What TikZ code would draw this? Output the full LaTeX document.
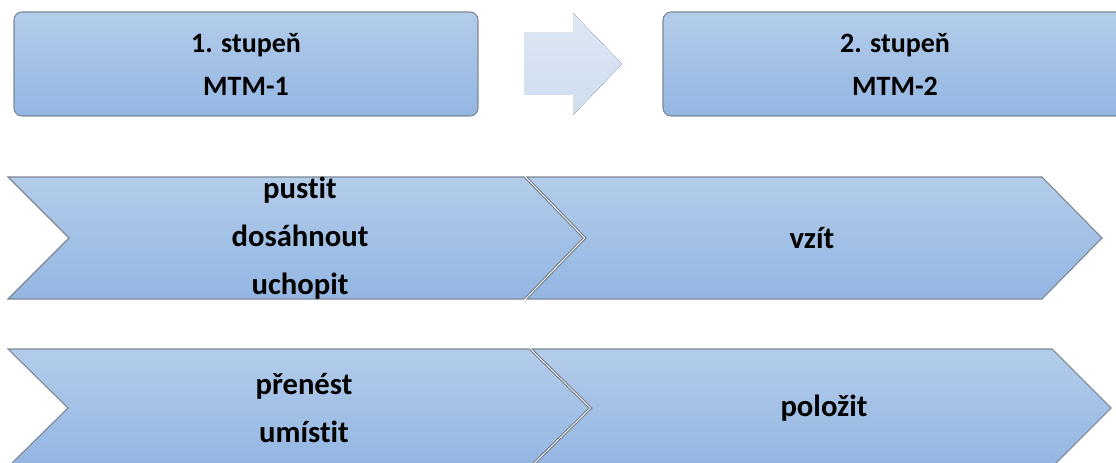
\documentclass[tikz,border=0pt]{standalone}
\usepackage{fontspec}
\setmainfont{Carlito}[Ligatures=NoCommon]
\usepackage{tikz}

\definecolor{boxtop}{HTML}{B3CCEA}
\definecolor{boxbot}{HTML}{93B6E2}
\definecolor{boxline}{HTML}{7D8794}
\definecolor{arrowtop}{HTML}{DDE7F4}
\definecolor{arrowbot}{HTML}{CFDDF0}

\tikzset{
  stagebox/.style={draw=boxline, line width=0.8pt, rounded corners=6pt, top color=boxtop, bottom color=boxbot},
  chevron/.style={draw=boxline, line width=0.8pt, top color=boxtop, bottom color=boxbot},
  stagetext/.style={inner sep=0pt, align=center, font=\bfseries\fontsize{21}{32.25}\selectfont},
  movetext/.style={inner sep=0pt, align=center, font=\bfseries\fontsize{23}{36}\selectfont}
}

\begin{document}
\begin{tikzpicture}[x=0.75pt,y=0.75pt,yscale=-1,xscale=1]
\useasboundingbox (0,0) rectangle (1116,463);

%Rounded Rect: 1. stupen
\draw [stagebox] (14,12) rectangle (478,116) ;
%Rounded Rect: 2. stupen
\draw [stagebox] (663,12) rectangle (1127,116) ;
%Right Arrow
\fill [top color=arrowtop, bottom color=arrowbot] (524,33) -- (573,33) -- (573,13) -- (622,64) -- (573,115) -- (573,95) -- (524,95) -- cycle ;

%Chevron: first row, left
\draw [chevron] (8,177) -- (524,177) -- (583,238) -- (524,299) -- (8,299) -- (69,238) -- cycle ;
%Chevron: first row, right
\draw [chevron] (527,177) -- (1042,177) -- (1102,238) -- (1042,299) -- (527,299) -- (586,238) -- cycle ;
%Chevron: second row, left
\draw [chevron] (8,349) -- (529,349) -- (589,408) -- (529,467) -- (8,467) -- (68,408) -- cycle ;
%Chevron: second row, right
\draw [chevron] (532,349) -- (1052,349) -- (1111,408) -- (1052,467) -- (532,467) -- (592,408) -- cycle ;

% Text Node
\draw (246,64) node (stage1) [stagetext] {1. stupeň\\MTM-1};
% Text Node
\draw (895,64) node (stage2) [stagetext] {2. stupeň\\MTM-2};
% Text Node
\draw (300,238) node (reach) [movetext] {pustit\\dosáhnout\\uchopit};
% Text Node
\draw (812,238) node (take) [movetext] {vzít};
% Text Node
\draw (304,408) node (move) [movetext] {přenést\\umístit};
% Text Node
\draw (824,408) node (put) [movetext] {položit};

\end{tikzpicture}
\end{document}
